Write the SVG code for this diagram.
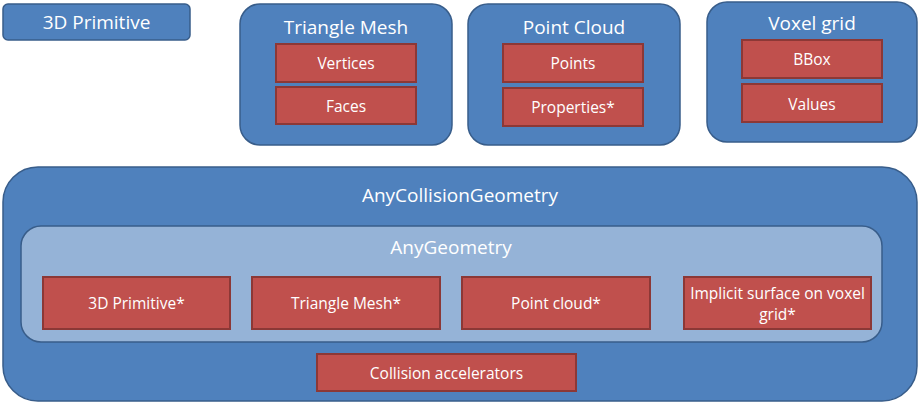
<svg xmlns="http://www.w3.org/2000/svg" width="920" height="403" viewBox="0 0 920 403">
<style>
.b{fill:#4F81BD;stroke:#385D8A;stroke-width:1.5}
.l{fill:#95B3D7;stroke:#385D8A;stroke-width:1.5}
.r{fill:#C0504D;stroke:#8C3836;stroke-width:2}
text{font-family:"Open Sans","Liberation Sans",sans-serif;fill:#fff;text-anchor:middle;dominant-baseline:central}
.t{font-size:19px}
.s{font-size:15.5px}
</style>
<rect width="920" height="403" fill="#fff"/>
<g id="prim3d"><rect class="b" x="3" y="4" width="187" height="36" rx="5"/><text class="t" x="96.5" y="22">3D Primitive</text></g>
<g id="trimesh"><rect class="b" x="240" y="4" width="212" height="141" rx="20"/><text class="t" x="346" y="27">Triangle Mesh</text>
<g id="vertices"><rect class="r" x="276" y="44" width="140" height="38"/><text class="s" x="346" y="63">Vertices</text></g>
<g id="faces"><rect class="r" x="276" y="87" width="140" height="37"/><text class="s" x="346" y="106">Faces</text></g></g>
<g id="pointcloud"><rect class="b" x="468" y="4" width="212" height="141" rx="20"/><text class="t" x="574" y="27">Point Cloud</text>
<g id="points"><rect class="r" x="503" y="44" width="140" height="38"/><text class="s" x="573" y="63">Points</text></g>
<g id="properties"><rect class="r" x="503" y="88" width="140" height="38"/><text class="s" x="573" y="107">Properties*</text></g></g>
<g id="voxelgrid"><rect class="b" x="707" y="2" width="210" height="140" rx="20"/><text class="t" x="812" y="23">Voxel grid</text>
<g id="bbox"><rect class="r" x="742" y="40" width="140" height="38"/><text class="s" x="812" y="59">BBox</text></g>
<g id="values"><rect class="r" x="742" y="84" width="140" height="38"/><text class="s" x="812" y="104">Values</text></g></g>
<g id="anycollision"><rect class="b" x="3" y="167" width="914" height="234" rx="35"/><text class="t" x="460" y="195">AnyCollisionGeometry</text>
<g id="anygeometry"><rect class="l" x="21" y="226" width="861" height="116" rx="20"/><text class="t" x="451" y="247">AnyGeometry</text>
<g id="prim3dstar"><rect class="r" x="43" y="277" width="187" height="52"/><text class="s" x="136.5" y="303">3D Primitive*</text></g>
<g id="trimeshstar"><rect class="r" x="252" y="277" width="188" height="52"/><text class="s" x="346" y="303">Triangle Mesh*</text></g>
<g id="pointcloudstar"><rect class="r" x="462" y="277" width="188" height="52"/><text class="s" x="556" y="303">Point cloud*</text></g>
<g id="implicit"><rect class="r" x="684" y="277" width="187" height="52"/><text class="s" x="777.5" y="293">Implicit surface on voxel</text><text class="s" x="777.5" y="314">grid*</text></g></g>
<g id="accel"><rect class="r" x="317" y="354" width="259" height="37"/><text class="s" x="446.5" y="373">Collision accelerators</text></g></g>
<g id="connectors"/>
</svg>
